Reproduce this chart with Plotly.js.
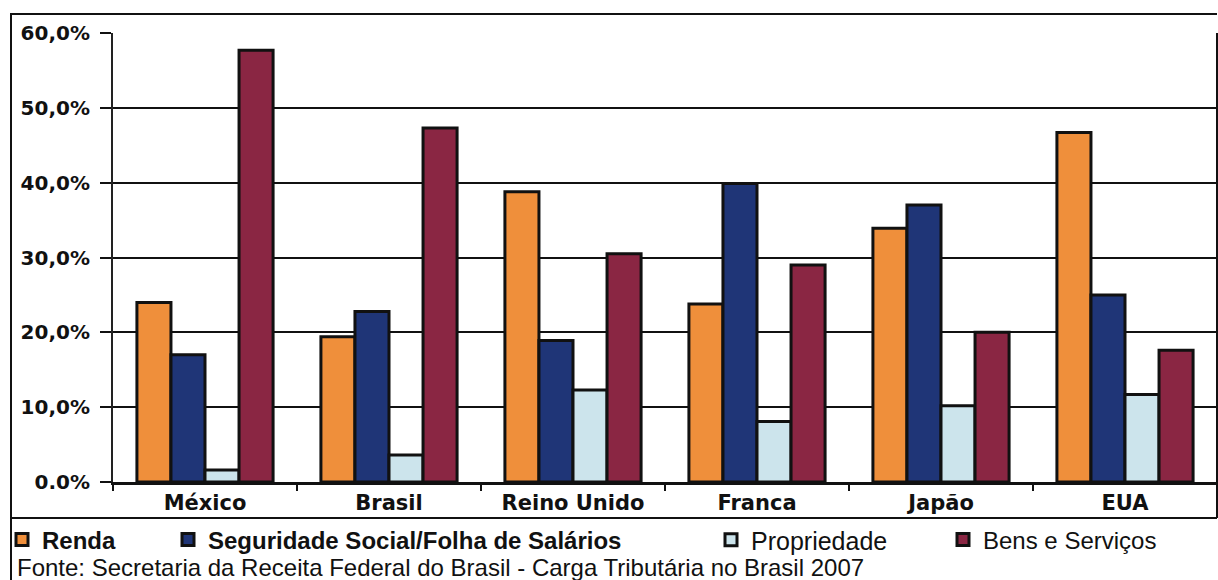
<!DOCTYPE html>
<html>
<head>
<meta charset="utf-8">
<script src="https://cdn.plot.ly/plotly-3.0.1.min.js"></script>
<style>html,body{margin:0;padding:0;background:#fff;}#chart{width:1218px;height:580px;}</style>
</head>
<body>
<div id="chart"></div>
<script>
// ---- data ----
const categories = ["México", "Brasil", "Reino Unido", "Franca", "Japão", "EUA"];
const renda = [24.0, 19.4, 38.8, 23.8, 33.9, 46.7];
const seguridade = [17.0, 22.8, 18.9, 39.9, 37.0, 25.0];
const propriedade = [1.6, 3.6, 12.3, 8.1, 10.2, 11.7];
const bens = [57.7, 47.3, 30.5, 29.0, 20.0, 17.6];
const seriesNames = ["Renda", "Seguridade Social/Folha de Salários", "Propriedade", "Bens e Serviços"];
const yTickVals = [0, 10, 20, 30, 40, 50, 60];
const yTickText = ["0.0%", "10,0%", "20,0%", "30,0%", "40,0%", "50,0%", "60,0%"];
const sourceText = "Fonte: Secretaria da Receita Federal do Brasil - Carga Tributária no Brasil 2007";

// ---- layout helpers (pixel -> paper / container) ----
const W = 1218, H = 580, L = 113, R = 1, T = 33, B = 98;
const PW = W - L - R, PH = H - T - B;
const px = x => (x - L) / PW;
const py = y => (H - B - y) / PH;
const cx = x => x / W;
const cy = y => (H - y) / H;

const colors = ["#EF8F3B", "#1F3577", "#CCE4EC", "#8A2643"];
const values = [renda, seguridade, propriedade, bens];
const legendIds = ["legend", "legend2", "legend3", "legend4"];

const traces = values.map((v, i) => ({
  type: "bar",
  name: seriesNames[i],
  x: categories,
  y: v,
  showlegend: true,
  marker: {color: colors[i], line: {color: "#111", width: 3}},
  legend: legendIds[i],
  hoverinfo: "x+y+name"
}));

const FONT = "Liberation Sans, Arial, sans-serif";
const AXFONT = "DejaVu Sans, Verdana, sans-serif";
const legendBase = (xpx, bold, size) => ({
  xref: "container", yref: "container",
  x: cx(xpx), y: cy(540), xanchor: "left", yanchor: "middle",
  orientation: "h", bgcolor: "rgba(0,0,0,0)", borderwidth: 0,
  font: {family: FONT, size: size, color: "#111", weight: bold ? "bold" : "normal"}
});

const lineShape = (x0, y0, x1, y1) => ({
  type: "line", xref: "paper", yref: "paper",
  x0: px(x0), y0: py(y0), x1: px(x1), y1: py(y1),
  line: {color: "#111", width: 2}
});

const layout = {
  width: W, height: H,
  showlegend: true,
  margin: {l: L, r: R, t: T, b: B, pad: 0, autoexpand: false},
  paper_bgcolor: "#fff", plot_bgcolor: "#fff",
  barmode: "group", bargap: 0.26, bargroupgap: 0,
  font: {family: FONT, color: "#111"},
  xaxis: {
    type: "category",
    showgrid: false,
    showline: true, linecolor: "#111", linewidth: 3,
    ticks: "outside", tickson: "boundaries", ticklen: 6, tickwidth: 2, tickcolor: "#111",
    tickfont: {family: AXFONT, size: 21, color: "#111", weight: "bold"},
    zeroline: false, fixedrange: true
  },
  yaxis: {
    range: [0, 60],
    tickvals: yTickVals, ticktext: yTickText,
    showgrid: true, gridcolor: "#111", gridwidth: 2,
    showline: true, linecolor: "#222", linewidth: 2,
    ticks: "outside", ticklen: 11, tickwidth: 2, tickcolor: "#111",
    tickfont: {family: AXFONT, size: 20, color: "#111", weight: "bold"},
    ticklabelstandoff: 6,
    zeroline: false, fixedrange: true
  },
  legend: legendBase(2, true, 24),
  legend2: legendBase(168, true, 24),
  legend3: legendBase(711, false, 25),
  legend4: legendBase(943, false, 24),
  shapes: [
    lineShape(10, 14, 1217, 14),
    lineShape(11, 14, 11, 580),
    lineShape(1217, 33, 1217, 518),
    lineShape(11, 518, 1217, 518)
  ],
  annotations: [{
    xref: "paper", yref: "paper", x: px(15), y: py(567),
    xanchor: "left", yanchor: "middle", showarrow: false,
    text: sourceText,
    font: {family: FONT, size: 24, color: "#111"}
  }]
};

Plotly.newPlot("chart", traces, layout, {displayModeBar: false, staticPlot: true});
</script>
</body>
</html>
